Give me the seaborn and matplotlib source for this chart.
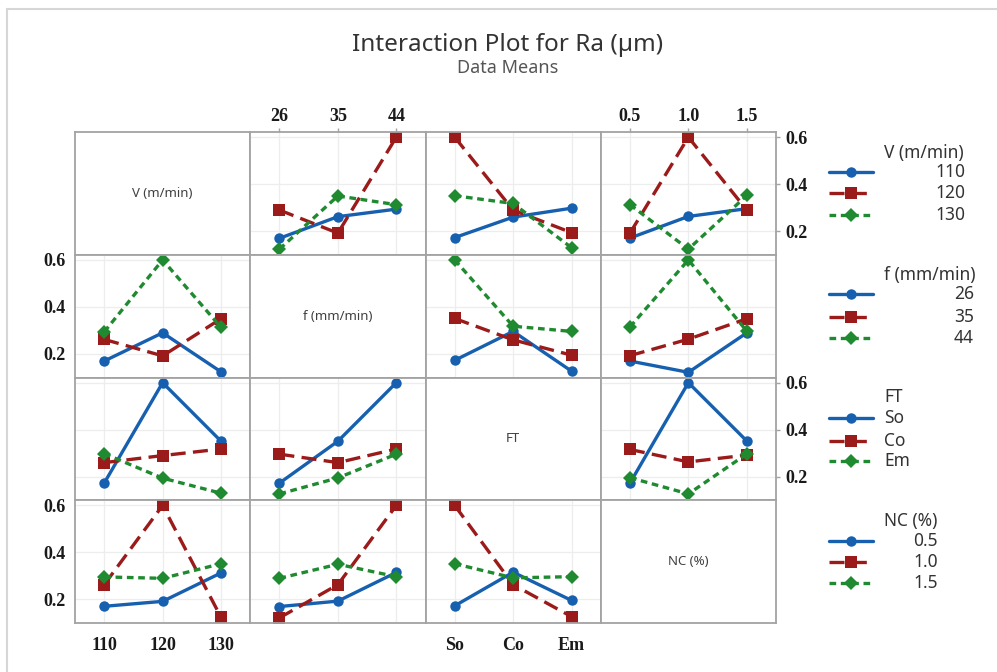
import matplotlib
matplotlib.use("Agg")
import matplotlib.pyplot as plt
import matplotlib.lines as mlines
import matplotlib.patches as mpatches
import seaborn as sns
import pandas as pd

# ---------------- data ----------------
factors = ["V (m/min)", "f (mm/min)", "FT", "NC (%)"]
levels_V = ["110", "120", "130"]
levels_f = ["26", "35", "44"]
levels_FT = ["So", "Co", "Em"]
levels_NC = ["0.5", "1.0", "1.5"]
levels = [levels_V, levels_f, levels_FT, levels_NC]

# pairwise cell means of Ra (rows = levels of first factor, cols = levels of second)
V_f = [[0.170, 0.262, 0.294], [0.290, 0.192, 0.600], [0.124, 0.350, 0.313]]
V_FT = [[0.173, 0.260, 0.298], [0.600, 0.290, 0.194], [0.351, 0.318, 0.130]]
V_NC = [[0.171, 0.263, 0.296], [0.192, 0.600, 0.290], [0.313, 0.124, 0.352]]
f_FT = [[0.173, 0.296, 0.127], [0.351, 0.260, 0.195], [0.600, 0.318, 0.296]]
f_NC = [[0.170, 0.122, 0.290], [0.193, 0.263, 0.350], [0.315, 0.600, 0.297]]
FT_NC = [[0.173, 0.600, 0.352], [0.316, 0.263, 0.292], [0.196, 0.127, 0.297]]
tables = {(0, 1): V_f, (0, 2): V_FT, (0, 3): V_NC,
          (1, 2): f_FT, (1, 3): f_NC, (2, 3): FT_NC}

# ---------------- style ----------------
colors = ["#1760B0", "#9B1A1A", "#1F8A30"]
mk = ["o", "s", "D"]
msz = [7.5, 8, 7]
dash_styles = [(None, None), (4.5, 2.2), (2.0, 1.4)]
GRID = "#EDEDED"
SPINE = "#A3A3A3"

W, H = 997, 672
fig = plt.figure(figsize=(W / 100, H / 100), dpi=100)
sns.set_style("white")
plt.rcParams["font.family"] = ["Noto Sans", "DejaVu Sans"]

def fx(px):
    return px / W

def fy(py):
    return 1 - py / H

L, R, T, B = 75, 776, 132, 623
gs = fig.add_gridspec(4, 4, left=fx(L), right=fx(R), top=fy(T), bottom=fy(B),
                      wspace=0, hspace=0)

tickfont = dict(family="Liberation Serif", weight="bold", size=13, color="#1A1A1A")

for r in range(4):
    for c in range(4):
        ax = fig.add_subplot(gs[r, c])
        for sp in ax.spines.values():
            sp.set_color(SPINE)
            sp.set_linewidth(1.3)
        ax.set_xlim(-0.5, 2.5)
        ax.set_ylim(0.1, 0.622)
        if r == c:
            ax.set_xticks([])
            ax.set_yticks([])
            ax.text(0.5, 0.5, factors[r], transform=ax.transAxes, ha="center",
                    va="center", fontsize=9.5, color="#404040")
            continue
        rows = []
        for a, tl in enumerate(levels[r]):
            for b in range(3):
                if r < c:
                    val = tables[(r, c)][a][b]
                else:
                    val = tables[(c, r)][b][a]
                rows.append({"x": b, "Ra": val, "trace": tl})
        df = pd.DataFrame(rows)
        ax.grid(True, color=GRID, linewidth=0.9)
        ax.set_axisbelow(True)
        for a, tl in enumerate(levels[r]):
            sub = df[df["trace"] == tl]
            kw = dict(color=colors[a], marker=mk[a], markersize=msz[a],
                      linewidth=2.4, markeredgewidth=0)
            if a > 0:
                kw["dashes"] = dash_styles[a]
            sns.lineplot(data=sub, x="x", y="Ra", ax=ax, legend=False,
                         estimator=None, **kw)
        ax.set_xlabel("")
        ax.set_ylabel("")
        ax.set_xticks([0, 1, 2])
        ax.set_yticks([0.2, 0.4, 0.6])
        ax.tick_params(axis="both", length=3, color=SPINE, width=1)
        # x tick labels
        if r == 0 and c in (1, 3):
            ax.xaxis.tick_top()
            ax.set_xticklabels(levels[c], fontdict=tickfont)
            ax.tick_params(axis="x", pad=2)
        elif r == 3 and c in (0, 2):
            ax.set_xticklabels(levels[c], fontdict=tickfont)
            ax.tick_params(axis="x", pad=7)
        else:
            ax.tick_params(axis="x", length=0, labelbottom=False, labeltop=False)
        # y tick labels
        if c == 3 and r in (0, 2):
            ax.yaxis.tick_right()
            ax.set_yticklabels(["0.2", "0.4", "0.6"], fontdict=tickfont)
            ax.tick_params(axis="y", pad=4)
        elif c == 0 and r in (1, 3):
            ax.set_yticklabels(["0.2", "0.4", "0.6"], fontdict=tickfont)
            ax.tick_params(axis="y", pad=4)
        else:
            ax.tick_params(axis="y", length=0, labelleft=False, labelright=False)

# ---------------- titles ----------------
fig.text(fx(508), fy(45), "Interaction Plot for Ra (µm)", ha="center", va="center",
         fontsize=17.5, color="#333333")
fig.text(fx(508), fy(68), "Data Means", ha="center", va="center",
         fontsize=13, color="#555555")

# ---------------- legends ----------------
leg_blocks = [
    # title_y, item ys, text x, alignment, factor index
    (152.7, [171.7, 193.3, 215.0], 965, "right", 0),
    (275.0, [294.3, 316.7, 338.3], 974, "right", 1),
    (396.7, [418.3, 440.7, 461.0], 884, "left", 2),
    (520.7, [540.7, 562.3, 583.3], 938, "right", 3),
]
for ty, ys, tx, align, fi in leg_blocks:
    fig.text(fx(884), fy(ty), factors[fi], ha="left", va="center", fontsize=12.5,
             color="#333333")
    for a, yy in enumerate(ys):
        ln = mlines.Line2D([fx(829), fx(851), fx(873)], [fy(yy)] * 3,
                           transform=fig.transFigure, color=colors[a],
                           linewidth=2.4, marker=mk[a], markersize=msz[a],
                           markeredgewidth=0, markevery=[1])
        if a > 0:
            ln.set_dashes(dash_styles[a])
        fig.add_artist(ln)
        fig.text(fx(tx), fy(yy), levels[fi][a], ha=align, va="center",
                 fontsize=12.5, color="#333333")

# outer frame
fig.add_artist(mpatches.Rectangle((fx(7), fy(H + 20)), fx(W + 20), fy(9) - fy(H + 20),
                                  transform=fig.transFigure, fill=False,
                                  edgecolor="#D6D6D6", linewidth=1.5))

fig.savefig("out.png", dpi=100)
